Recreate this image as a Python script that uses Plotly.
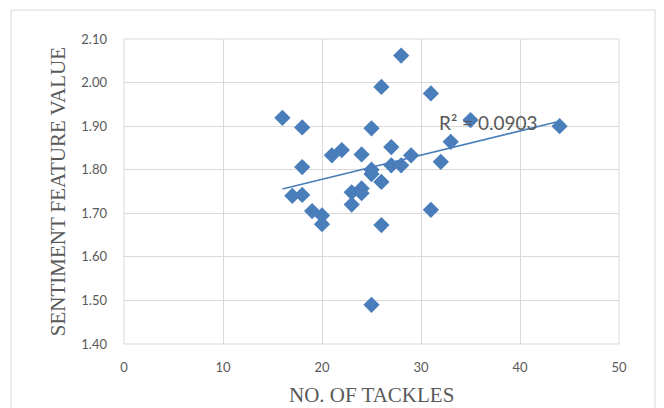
import numpy as np
import plotly.graph_objects as go

# Tackles per player and the matching sentiment feature value
tackles = [16, 18, 18, 17, 18, 19, 20, 20, 21, 22, 24, 25, 26, 28,
           23, 24, 23, 24, 25, 25, 26, 25, 26, 27, 27, 28, 29, 31,
           31, 32, 33, 35, 44]
sentiment = [1.919, 1.897, 1.806, 1.740, 1.742, 1.705, 1.695, 1.675, 1.833,
             1.845, 1.835, 1.895, 1.990, 2.062, 1.748, 1.757, 1.720, 1.746,
             1.800, 1.790, 1.772, 1.490, 1.673, 1.852, 1.810, 1.810, 1.833,
             1.708, 1.975, 1.818, 1.864, 1.914, 1.900]

r2_label = "R² = 0.0903"
x_ticks = [0, 10, 20, 30, 40, 50]
y_ticks = [1.40, 1.50, 1.60, 1.70, 1.80, 1.90, 2.00, 2.10]

BLUE = "#4A7EBB"
GRID = "#D9D9D9"
TXT = "#595959"
TICK_FONT = "Lato, Liberation Sans, sans-serif"

# Least-squares linear trend over the data range
slope, intercept = np.polyfit(tackles, sentiment, 1)
tx = np.array([min(tackles), max(tackles)])
ty = slope * tx + intercept

fig = go.Figure()
fig.add_trace(go.Scatter(
    x=tackles, y=sentiment, mode="markers",
    marker=dict(symbol="diamond", size=12.5, color=BLUE, line=dict(width=0)),
    showlegend=False, hoverinfo="x+y",
))
fig.add_trace(go.Scatter(
    x=tx, y=ty, mode="lines",
    line=dict(color=BLUE, width=1.5),
    showlegend=False, hoverinfo="skip",
))

fig.update_layout(
    width=664, height=408,
    margin=dict(l=124, r=45, t=39, b=64),
    paper_bgcolor="white", plot_bgcolor="white",
    font=dict(family="Lato, Liberation Sans, sans-serif", color=TXT, size=12),
    xaxis=dict(range=[0, 50], tickvals=x_ticks, showgrid=True, gridcolor=GRID,
               gridwidth=1, zeroline=False, showline=False, ticks="",
               tickfont=dict(family=TICK_FONT, size=13, color=TXT),
               ticklabelstandoff=14),
    yaxis=dict(range=[1.40, 2.10], tickvals=y_ticks, tickformat=".2f",
               showgrid=True, gridcolor=GRID, gridwidth=1, zeroline=False,
               showline=False, ticks="",
               tickfont=dict(family=TICK_FONT, size=13, color=TXT),
               ticklabelstandoff=16),
    annotations=[
        dict(text="NO. OF TACKLES", xref="paper", yref="paper",
             x=0.499, y=-0.167, showarrow=False, xanchor="center", yanchor="middle",
             font=dict(family="Liberation Serif, serif", size=21, color=TXT)),
        dict(text="SENTIMENT FEATURE VALUE", xref="paper", yref="paper",
             x=-0.133, y=0.498, showarrow=False, textangle=-90,
             xanchor="center", yanchor="middle",
             font=dict(family="Liberation Serif, serif", size=21, color=TXT)),
        dict(text=r2_label, xref="x", yref="y", x=31.6, y=1.9095,
             showarrow=False, xanchor="left", yanchor="middle",
             font=dict(size=19, color=TXT)),
    ],
    shapes=[
        dict(type="rect", xref="paper", yref="paper",
             x0=-0.228, x1=1.0727, y0=-0.3, y1=1.095,
             line=dict(color=GRID, width=1), fillcolor="rgba(0,0,0,0)",
             layer="below"),
        # plot-area edges at 0/50 and 1.40/2.10 drawn in the grid colour
        dict(type="rect", xref="paper", yref="paper", x0=0, x1=1, y0=0, y1=1,
             line=dict(color=GRID, width=1), fillcolor="rgba(0,0,0,0)",
             layer="below"),
    ],
)

fig.write_html("out.html")
